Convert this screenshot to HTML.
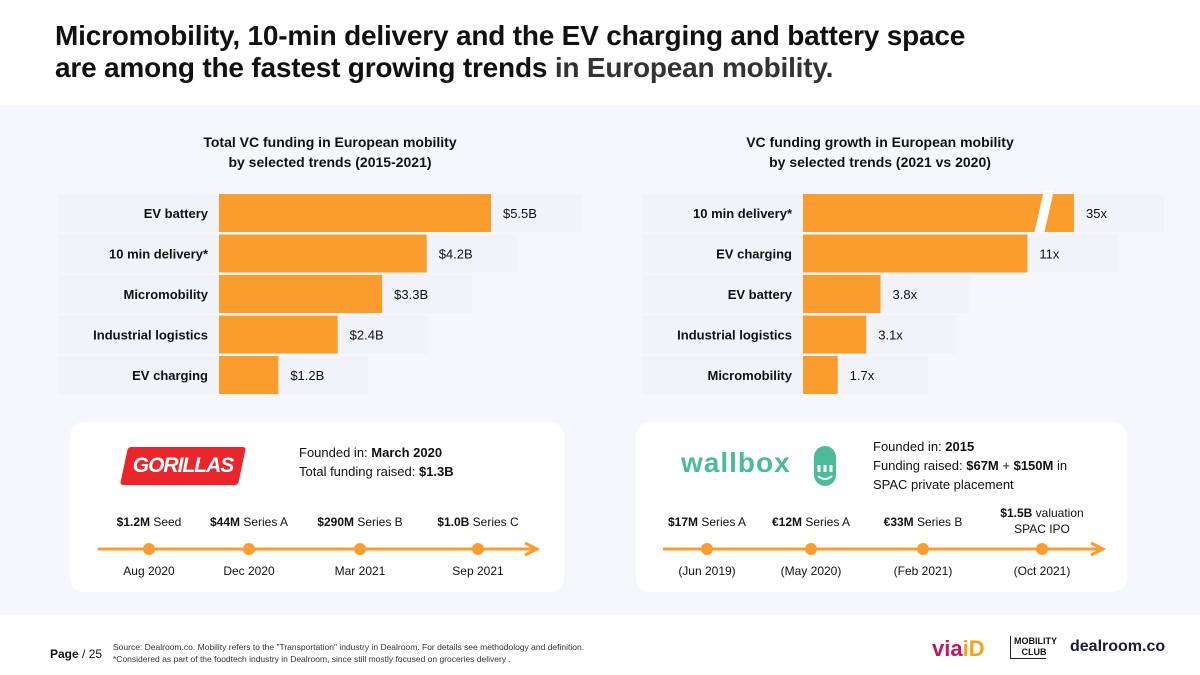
<!DOCTYPE html>
<html><head><meta charset="utf-8">
<style>
*{margin:0;padding:0;box-sizing:border-box}
body{width:1200px;height:675px;overflow:hidden;background:#fff;font-family:"Liberation Sans","DejaVu Sans",sans-serif;color:#111;position:relative}
.abs{position:absolute}
#title{left:55px;top:20px;font-size:28px;font-weight:bold;line-height:32px;color:#111;letter-spacing:-0.2px}
#title span{color:#333}
#band{left:0;top:105px;width:1200px;height:510px;background:#f6f7fb}
.ct{font-size:14px;font-weight:bold;text-align:center;line-height:20px}
.card{background:#fff;border-radius:14px}
.t13{font-size:13px}
#charts{z-index:5}
</style></head><body>
<div id="title" class="abs">Micromobility, 10-min delivery and the EV charging and battery space<br>are among the fastest growing trends <span>in European mobility.</span></div>
<div id="band" class="abs"></div>

<div class="abs ct" style="left:120px;top:132px;width:420px">Total VC funding in European mobility<br>by selected trends (2015-2021)</div>
<div class="abs ct" style="left:670px;top:132px;width:420px">VC funding growth in European mobility<br>by selected trends (2021 vs 2020)</div>

<!-- Gorillas card -->
<div class="abs card" style="left:70px;top:422px;width:494px;height:170px"></div>
<div class="abs" style="left:124px;top:447px;width:118px;height:38px;background:#e8262b;transform:skewX(-12deg);border-radius:3px"></div>
<div class="abs" style="left:124px;top:447px;width:118px;height:38px;color:#fff;font-weight:bold;font-style:italic;font-size:21px;line-height:38px;text-align:center;letter-spacing:-1px">GORILLAS</div>
<div class="abs t13" style="left:299px;top:443px;line-height:19px">Founded in: <b>March 2020</b><br>Total funding raised: <b>$1.3B</b></div>

<!-- Wallbox card -->
<div class="abs card" style="left:636px;top:422px;width:491px;height:170px"></div>
<div class="abs" style="left:681px;top:447px;font-size:28px;font-weight:bold;color:#4dbb98;letter-spacing:1px">wallbox</div>
<svg class="abs" style="left:812px;top:445px" width="30" height="42"><rect x="2" y="1" width="22" height="40" rx="11" fill="#4dbb98"/><path d="M7 20 v7 M13 20 v7 M19 20 v7" stroke="#fff" stroke-width="3"/><path d="M6 31 q7 6 14 0" stroke="#fff" stroke-width="2" fill="none"/></svg>
<div class="abs t13" style="left:873px;top:437px;line-height:19px">Founded in: <b>2015</b><br>Funding raised: <b>$67M</b> + <b>$150M</b> in<br>SPAC private placement</div>

<svg class="abs" style="left:0;top:0" width="1200" height="675" id="charts"></svg>

<!-- footer -->
<div class="abs" style="left:50px;top:647px;font-size:12px"><b>Page</b> / 25</div>
<div class="abs" style="left:113px;top:641px;font-size:8.5px;line-height:12px;color:#333">Source: Dealroom.co.  Mobility refers to the "Transportation" industry in Dealroom. For details see methodology and definition.<br>*Considered as part of the foodtech industry in Dealroom, since still mostly  focused on groceries delivery .</div>
<div class="abs" style="left:932px;top:636px;font-size:22px;font-weight:bold;color:#c2185b">via<span style="color:#f7a21b">iD</span></div>
<div class="abs" style="left:1010px;top:636px;font-size:9px;font-weight:bold;line-height:11px;border-left:1px solid #222;border-bottom:1px solid #222;padding-left:3px;width:36px">MOBILITY<br>&nbsp;&nbsp;&nbsp;CLUB</div>
<div class="abs" style="left:1070px;top:638px;font-size:16px;font-weight:bold;color:#1b1b3a">dealroom.co</div>

<script>
const leftCats=["EV battery","10 min delivery*","Micromobility","Industrial logistics","EV charging"];
const leftVals=[5.5,4.2,3.3,2.4,1.2];
const leftLabels=["$5.5B","$4.2B","$3.3B","$2.4B","$1.2B"];
const rightCats=["10 min delivery*","EV charging","EV battery","Industrial logistics","Micromobility"];
const rightVals=[35,11,3.8,3.1,1.7];
const rightLabels=["35x","11x","3.8x","3.1x","1.7x"];
const gMoney=["$1.2M","$44M","$290M","$1.0B"];
const gRound=["Seed","Series A","Series B","Series C"];
const gDates=["Aug 2020","Dec 2020","Mar 2021","Sep 2021"];
const wMoney=["$17M","€12M","€33M","$1.5B"];
const wRound=["Series A","Series A","Series B","valuation"];
const wDates=["(Jun 2019)","(May 2020)","(Feb 2021)","(Oct 2021)"];

const NS="http://www.w3.org/2000/svg";
const svg=document.getElementById('charts');
function mk(t,a,txt){const e=document.createElementNS(NS,t);for(const k in a)e.setAttribute(k,a[k]);if(txt!==undefined)e.textContent=txt;svg.appendChild(e);return e;}
const rowY=i=>194+i*40.5;
const BH=38;
function drawChart(cats,vals,labels,x0,scale,cap,prefix){
  cats.forEach((c,i)=>{
    const y=rowY(i);
    const broken=vals[i]>cap;
    const w=broken?271:vals[i]*scale;
    const bg=mk('rect',{x:x0-160,y:y,width:w+160+90,height:BH,fill:'#f2f3f8'});
    
    
    const r=mk('rect',{x:x0,y:y,width:w,height:BH,fill:'#fa9c2e'});
    
    
    if(broken){
      const b=mk('polygon',{points:`${x0+w-40},${y+BH+2} ${x0+w-30},${y+BH+2} ${x0+w-20},${y-4} ${x0+w-30},${y-4}`,fill:'#fff'});
      
      
    }
    const l=mk('text',{x:x0-11,y:y+BH/2+5,'text-anchor':'end','font-size':13,'font-weight':'bold',fill:'#111'},c);
    
    
    const v=mk('text',{x:x0+w+12,y:y+BH/2+5,'font-size':13,fill:'#111'},labels[i]);
    
    
  });
}
drawChart(leftCats,leftVals,leftLabels,219,49.45,100,'left');
drawChart(rightCats,rightVals,rightLabels,803,20.4,20,'right');

function timeline(x0,x1,pts,money,round,dates,prefix,extra){
  const y=549;
  const ln=mk('line',{x1:x0,y1:y,x2:x1,y2:y,stroke:'#fa9c2e','stroke-width':3});
  
  
  const ar=mk('path',{d:`M${x1-12},${y-6} L${x1},${y} L${x1-12},${y+6}`,stroke:'#fa9c2e','stroke-width':3,fill:'none'});
  
  
  pts.forEach((px,i)=>{
    const c=mk('circle',{cx:px,cy:y,r:6,fill:'#fa9c2e'});
    
    
    const ty=(extra&&i===3)?517:526;
    const t=mk('text',{x:px,y:ty,'text-anchor':'middle','font-size':12,fill:'#111'});
    
    
    const b=document.createElementNS(NS,'tspan');b.setAttribute('font-weight','bold');b.textContent=money[i];t.appendChild(b);
    const s=document.createElementNS(NS,'tspan');s.textContent=' '+round[i];t.appendChild(s);
    if(extra&&i===3){
      const e=mk('text',{x:px,y:533,'text-anchor':'middle','font-size':12,fill:'#111'},extra);
      
      
    }
    const d=mk('text',{x:px,y:575,'text-anchor':'middle','font-size':12,fill:'#111'},dates[i]);
    
    
  });
}
timeline(98,537,[149,249,360,478],gMoney,gRound,gDates,'gorillas');
timeline(663,1103,[707,811,923,1042],wMoney,wRound,wDates,'wallbox','SPAC IPO');
</script>
</body></html>
